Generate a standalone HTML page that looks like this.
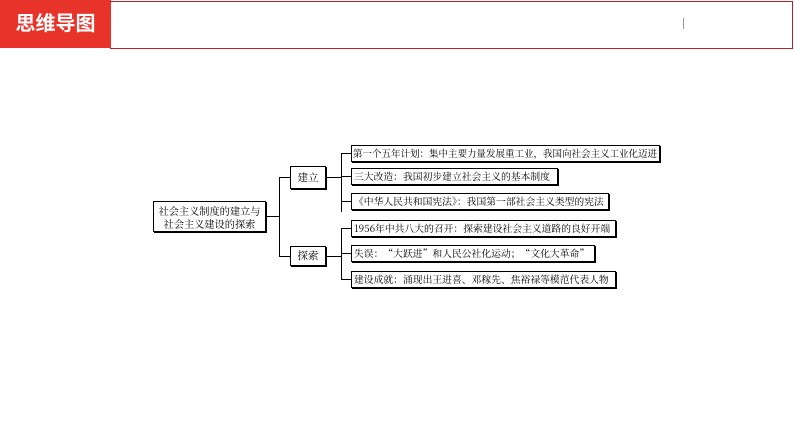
<!DOCTYPE html>
<html><head><meta charset="utf-8"><style>
body{margin:0;width:794px;height:447px;background:#fff;position:relative;overflow:hidden;font-family:"Noto Serif CJK SC","Liberation Serif",serif;}
.a{position:absolute}
.red{left:0;top:0;width:111px;height:48px;background:#e8332a;color:#fff;font:bold 20px "Liberation Sans","Noto Sans CJK SC",sans-serif;line-height:48px;text-align:center;}
.hb{left:110px;top:1px;width:682px;height:46px;border:1px solid #b5222a;border-left:none;}
.b{position:absolute;border:1px solid #000;box-shadow:1px 1px 0 #000;font-size:9.8px;line-height:15px;padding-left:2px;box-sizing:border-box;white-space:nowrap;color:#000;overflow:hidden}
.h{position:absolute;height:1px;background:#000}
.v{position:absolute;width:1px;background:#000}
</style></head><body>
<div class="a red">思维导图</div>
<div class="a hb"></div>
<div class="v" style="left:683px;top:18px;height:11px;background:#999"></div>

<div class="b" style="left:153px;top:201px;width:113px;height:31px;line-height:13px;text-align:center;padding:2px 0 0;font-size:10.2px">社会主义制度的建立与<br>社会主义建设的探索</div>
<div class="h" style="left:267px;top:216px;width:12px"></div>
<div class="v" style="left:279px;top:177px;height:80px"></div>
<div class="h" style="left:279px;top:177px;width:11px"></div>
<div class="h" style="left:279px;top:256px;width:11px"></div>
<div class="b" style="left:290px;top:166px;width:36px;height:23px;line-height:21px;text-align:center;padding:0;font-size:10.5px">建立</div>
<div class="b" style="left:290px;top:246px;width:36px;height:20px;line-height:18px;text-align:center;padding:0;font-size:10.5px">探索</div>
<div class="h" style="left:326px;top:177px;width:15px"></div>
<div class="h" style="left:326px;top:256px;width:15px"></div>
<div class="v" style="left:341px;top:153px;height:59px"></div>
<div class="v" style="left:341px;top:228px;height:51px"></div>
<div class="h" style="left:341px;top:153px;width:10px"></div>
<div class="h" style="left:341px;top:176px;width:10px"></div>
<div class="h" style="left:341px;top:201px;width:10px"></div>
<div class="h" style="left:341px;top:228px;width:10px"></div>
<div class="h" style="left:341px;top:253px;width:10px"></div>
<div class="h" style="left:341px;top:279px;width:10px"></div>

<div class="b" style="left:351px;top:145px;width:309px;height:17px;font-size:9.5px;padding-left:1px">第一个五年计划：集中主要力量发展重工业，我国向社会主义工业化迈进</div>
<div class="b" style="left:351px;top:168px;width:207px;height:17px">三大改造：我国初步建立社会主义的基本制度</div>
<div class="b" style="left:351px;top:193px;width:258px;height:17px">《中华人民共和国宪法》：我国第一部社会主义类型的宪法</div>
<div class="b" style="left:351px;top:220px;width:265px;height:17px">1956年中共八大的召开：探索建设社会主义道路的良好开端</div>
<div class="b" style="left:351px;top:245px;width:244px;height:17px">失误：“大跃进”和人民公社化运动；“文化大革命”</div>
<div class="b" style="left:351px;top:271px;width:265px;height:17px">建设成就：涌现出王进喜、邓稼先、焦裕禄等模范代表人物</div>
</body></html>
